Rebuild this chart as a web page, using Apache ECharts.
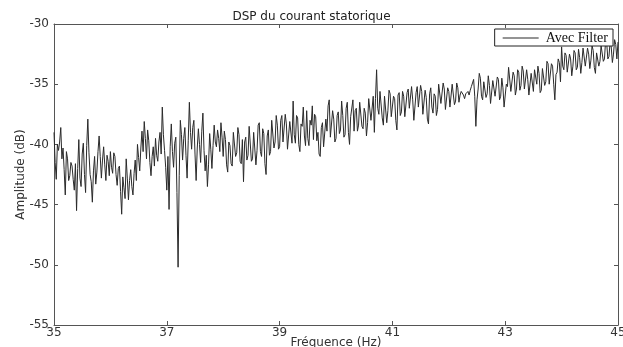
<!DOCTYPE html>
<html>
<head>
<meta charset="utf-8">
<script src="https://cdn.jsdelivr.net/npm/echarts@6/dist/echarts.min.js"></script>
<style>
  html, body { margin: 0; padding: 0; background: #fff; }
  #chart { width: 623px; height: 347px; }
</style>
</head>
<body>
<div id="chart"></div>
<script>
// sampling grid of the spectrum (Hz)
const freqStart = 35;
const freqStep = 0.02;

// amplitude (dB), one row per Hz
const amp35 = [-39.0, -41.5, -42.9, -40.0, -40.5, -39.8, -38.6, -41.2, -40.3, -42.1, -44.2, -40.6, -41.2, -43.0, -42.6, -41.5, -41.8, -42.9, -43.8, -41.6, -45.5, -42.0, -39.6, -42.8, -43.5, -40.8, -39.9, -42.5, -44.0, -40.1, -37.9, -40.7, -42.5, -43.1, -44.8, -42.2, -41.0, -43.3, -42.3, -40.6, -39.3, -41.0, -42.8, -41.3, -40.2, -41.7, -43.0, -40.9, -41.4, -42.6];
const amp36 = [-40.6, -41.9, -42.4, -40.7, -41.0, -42.5, -43.4, -42.0, -41.8, -43.9, -45.8, -42.7, -43.6, -44.5, -41.2, -42.8, -44.6, -43.0, -42.1, -43.5, -44.2, -42.4, -41.3, -43.0, -40.0, -41.1, -42.2, -40.3, -38.9, -40.6, -38.1, -39.5, -41.2, -38.8, -39.7, -41.5, -42.6, -41.0, -40.2, -41.8, -39.5, -40.9, -41.4, -39.8, -39.0, -40.8, -36.9, -39.2, -40.5, -41.9];
const amp37 = [-43.8, -41.0, -45.4, -40.2, -38.3, -40.6, -41.9, -39.9, -39.4, -44.0, -50.2, -42.6, -38.0, -39.2, -41.3, -39.5, -38.6, -40.9, -42.8, -39.7, -36.5, -39.0, -40.4, -38.6, -38.0, -40.8, -43.0, -40.3, -38.7, -40.0, -41.5, -38.9, -37.4, -40.5, -42.2, -40.9, -43.5, -41.7, -39.1, -40.4, -42.0, -40.1, -38.4, -39.8, -40.2, -38.8, -39.5, -40.6, -38.2, -39.4];
const amp38 = [-41.0, -38.9, -39.6, -41.7, -42.3, -39.8, -40.1, -41.6, -41.8, -39.0, -38.9, -41.0, -40.7, -38.6, -39.2, -41.4, -41.6, -39.6, -43.1, -39.8, -39.4, -41.3, -40.9, -38.5, -38.6, -41.4, -41.2, -39.0, -39.0, -41.7, -40.5, -38.4, -38.2, -40.6, -41.0, -38.7, -39.1, -41.6, -42.5, -39.3, -38.8, -40.9, -40.6, -38.0, -37.9, -40.3, -39.8, -37.6, -38.4, -40.4];
const amp39 = [-40.2, -38.0, -37.6, -39.8, -39.7, -37.5, -38.3, -40.4, -40.4, -38.1, -38.0, -39.9, -36.4, -39.2, -39.9, -37.6, -37.8, -40.0, -40.6, -38.3, -38.5, -36.9, -39.3, -40.1, -37.2, -39.5, -40.1, -38.0, -38.4, -36.8, -39.6, -37.5, -37.7, -39.7, -39.0, -40.8, -41.0, -38.6, -38.2, -40.2, -40.3, -37.9, -38.9, -36.8, -36.3, -39.4, -39.4, -37.2, -37.9, -39.8];
const amp40 = [-39.5, -37.6, -37.3, -39.1, -38.8, -36.4, -37.6, -39.4, -39.2, -37.0, -36.5, -39.0, -40.0, -37.7, -37.8, -36.3, -38.9, -37.2, -37.0, -38.9, -38.4, -36.5, -36.6, -38.5, -38.7, -37.0, -37.4, -39.3, -38.2, -36.2, -36.1, -38.0, -37.9, -36.0, -39.0, -36.2, -33.8, -37.0, -37.5, -35.6, -35.6, -37.8, -38.4, -36.0, -36.0, -38.2, -37.2, -35.5, -35.8, -37.7];
const amp41 = [-37.6, -36.0, -36.2, -38.0, -38.8, -35.9, -35.7, -37.6, -37.3, -35.6, -36.0, -37.7, -37.8, -35.7, -35.4, -37.0, -37.0, -35.2, -36.3, -38.0, -37.9, -35.7, -35.2, -36.9, -36.8, -35.1, -35.6, -37.5, -37.5, -35.5, -36.1, -37.9, -38.3, -35.8, -35.3, -36.9, -37.4, -35.8, -36.0, -37.6, -37.1, -35.0, -35.1, -36.6, -36.6, -34.9, -35.4, -37.1, -37.2, -35.3];
const amp42 = [-35.6, -36.9, -36.8, -35.0, -35.0, -36.7, -36.4, -34.9, -35.3, -36.5, -35.9, -35.6, -35.5, -35.9, -36.2, -35.8, -35.7, -35.6, -35.9, -35.5, -35.2, -34.9, -34.6, -36.0, -38.5, -36.3, -35.4, -34.1, -34.5, -36.0, -36.3, -34.8, -34.9, -36.1, -35.8, -34.3, -35.1, -36.6, -36.5, -34.7, -34.7, -36.0, -35.9, -34.4, -34.6, -36.3, -36.0, -34.5, -35.3, -36.9];
const amp43 = [-36.9, -35.0, -35.2, -33.6, -33.7, -35.6, -35.6, -34.0, -34.3, -35.9, -35.4, -33.8, -34.0, -35.5, -35.1, -33.5, -33.9, -35.4, -35.3, -33.8, -34.6, -35.9, -35.8, -34.1, -34.2, -35.6, -33.8, -33.7, -35.0, -33.5, -34.1, -35.7, -35.5, -33.7, -33.6, -35.1, -34.8, -33.1, -33.3, -35.0, -34.9, -33.3, -33.5, -35.0, -36.3, -34.2, -34.0, -32.9, -33.2, -34.8];
const amp44 = [-31.9, -33.5, -33.8, -32.4, -32.6, -34.0, -34.0, -32.5, -32.9, -34.3, -33.5, -32.2, -32.4, -33.8, -33.6, -32.1, -32.8, -34.1, -33.2, -32.0, -32.1, -33.5, -33.4, -32.0, -32.5, -33.7, -33.0, -31.8, -32.2, -33.6, -34.1, -32.4, -32.3, -33.5, -33.1, -31.8, -31.8, -33.1, -32.9, -31.4, -31.6, -32.9, -32.7, -31.5, -31.9, -33.2, -32.5, -31.3, -31.7, -32.9, -31.5];

const amplitudes = [].concat(amp35, amp36, amp37, amp38, amp39, amp40, amp41, amp42, amp43, amp44);
const seriesData = amplitudes.map((v, i) => [+(freqStart + i * freqStep).toFixed(2), v]);

const labelFont = 'DejaVu Sans';
const axisColor = '#555';

const chart = echarts.init(document.getElementById('chart'));
chart.setOption({
  animation: false,
  backgroundColor: '#fff',
  title: {
    text: 'DSP du courant statorique',
    left: 'center',
    top: 6,
    textStyle: { fontFamily: labelFont, fontSize: 12, fontWeight: 'normal', color: '#222' }
  },
  legend: {
    right: 10,
    top: 29,
    data: [{ name: 'Avec Filter', icon: 'rect' }],
    backgroundColor: '#fff',
    borderColor: '#222',
    borderWidth: 1,
    borderRadius: 0,
    padding: [2, 5, 1, 8],
    itemWidth: 36,
    itemHeight: 1,
    itemGap: 4,
    textStyle: { fontFamily: 'Liberation Serif', fontSize: 14, color: '#111', padding: [0, 0, 0, 2] }
  },
  grid: { left: 54, right: 5, top: 24, bottom: 22, containLabel: false, outerBoundsMode: 'none' },
  xAxis: [{
    type: 'value',
    min: 35,
    max: 45,
    interval: 2,
    name: 'Fréquence (Hz)',
    nameLocation: 'middle',
    nameGap: 12,
    nameMoveOverlap: false,
    nameTextStyle: { fontFamily: labelFont, fontSize: 12, color: '#333' },
    axisLine: { lineStyle: { color: axisColor } },
    axisTick: { inside: true, length: 4, lineStyle: { color: axisColor } },
    axisLabel: { fontFamily: labelFont, fontSize: 12, color: '#333', margin: 2 },
    splitLine: { show: false }
  }, {
    type: 'value',
    position: 'top',
    min: 35,
    max: 45,
    interval: 2,
    axisLine: { lineStyle: { color: axisColor } },
    axisTick: { inside: true, length: 4, lineStyle: { color: axisColor } },
    axisLabel: { show: false },
    splitLine: { show: false }
  }],
  yAxis: [{
    type: 'value',
    min: -55,
    max: -30,
    interval: 5,
    name: 'Amplitude (dB)',
    nameLocation: 'middle',
    nameGap: 27,
    nameMoveOverlap: false,
    nameTextStyle: { fontFamily: labelFont, fontSize: 12, color: '#333' },
    axisLine: { show: true, lineStyle: { color: axisColor } },
    axisTick: { show: true, inside: true, length: 4, lineStyle: { color: axisColor } },
    axisLabel: { fontFamily: labelFont, fontSize: 12, color: '#333', margin: 5 },
    splitLine: { show: false }
  }, {
    type: 'value',
    position: 'right',
    min: -55,
    max: -30,
    interval: 5,
    axisLine: { show: true, lineStyle: { color: axisColor } },
    axisTick: { show: true, inside: true, length: 4, lineStyle: { color: axisColor } },
    axisLabel: { show: false },
    splitLine: { show: false }
  }],
  series: [{
    name: 'Avec Filter',
    type: 'line',
    data: seriesData,
    symbol: 'none',
    lineStyle: { color: '#2a2a2a', width: 1 },
    itemStyle: { color: '#2a2a2a' }
  }]
});
</script>
</body>
</html>
